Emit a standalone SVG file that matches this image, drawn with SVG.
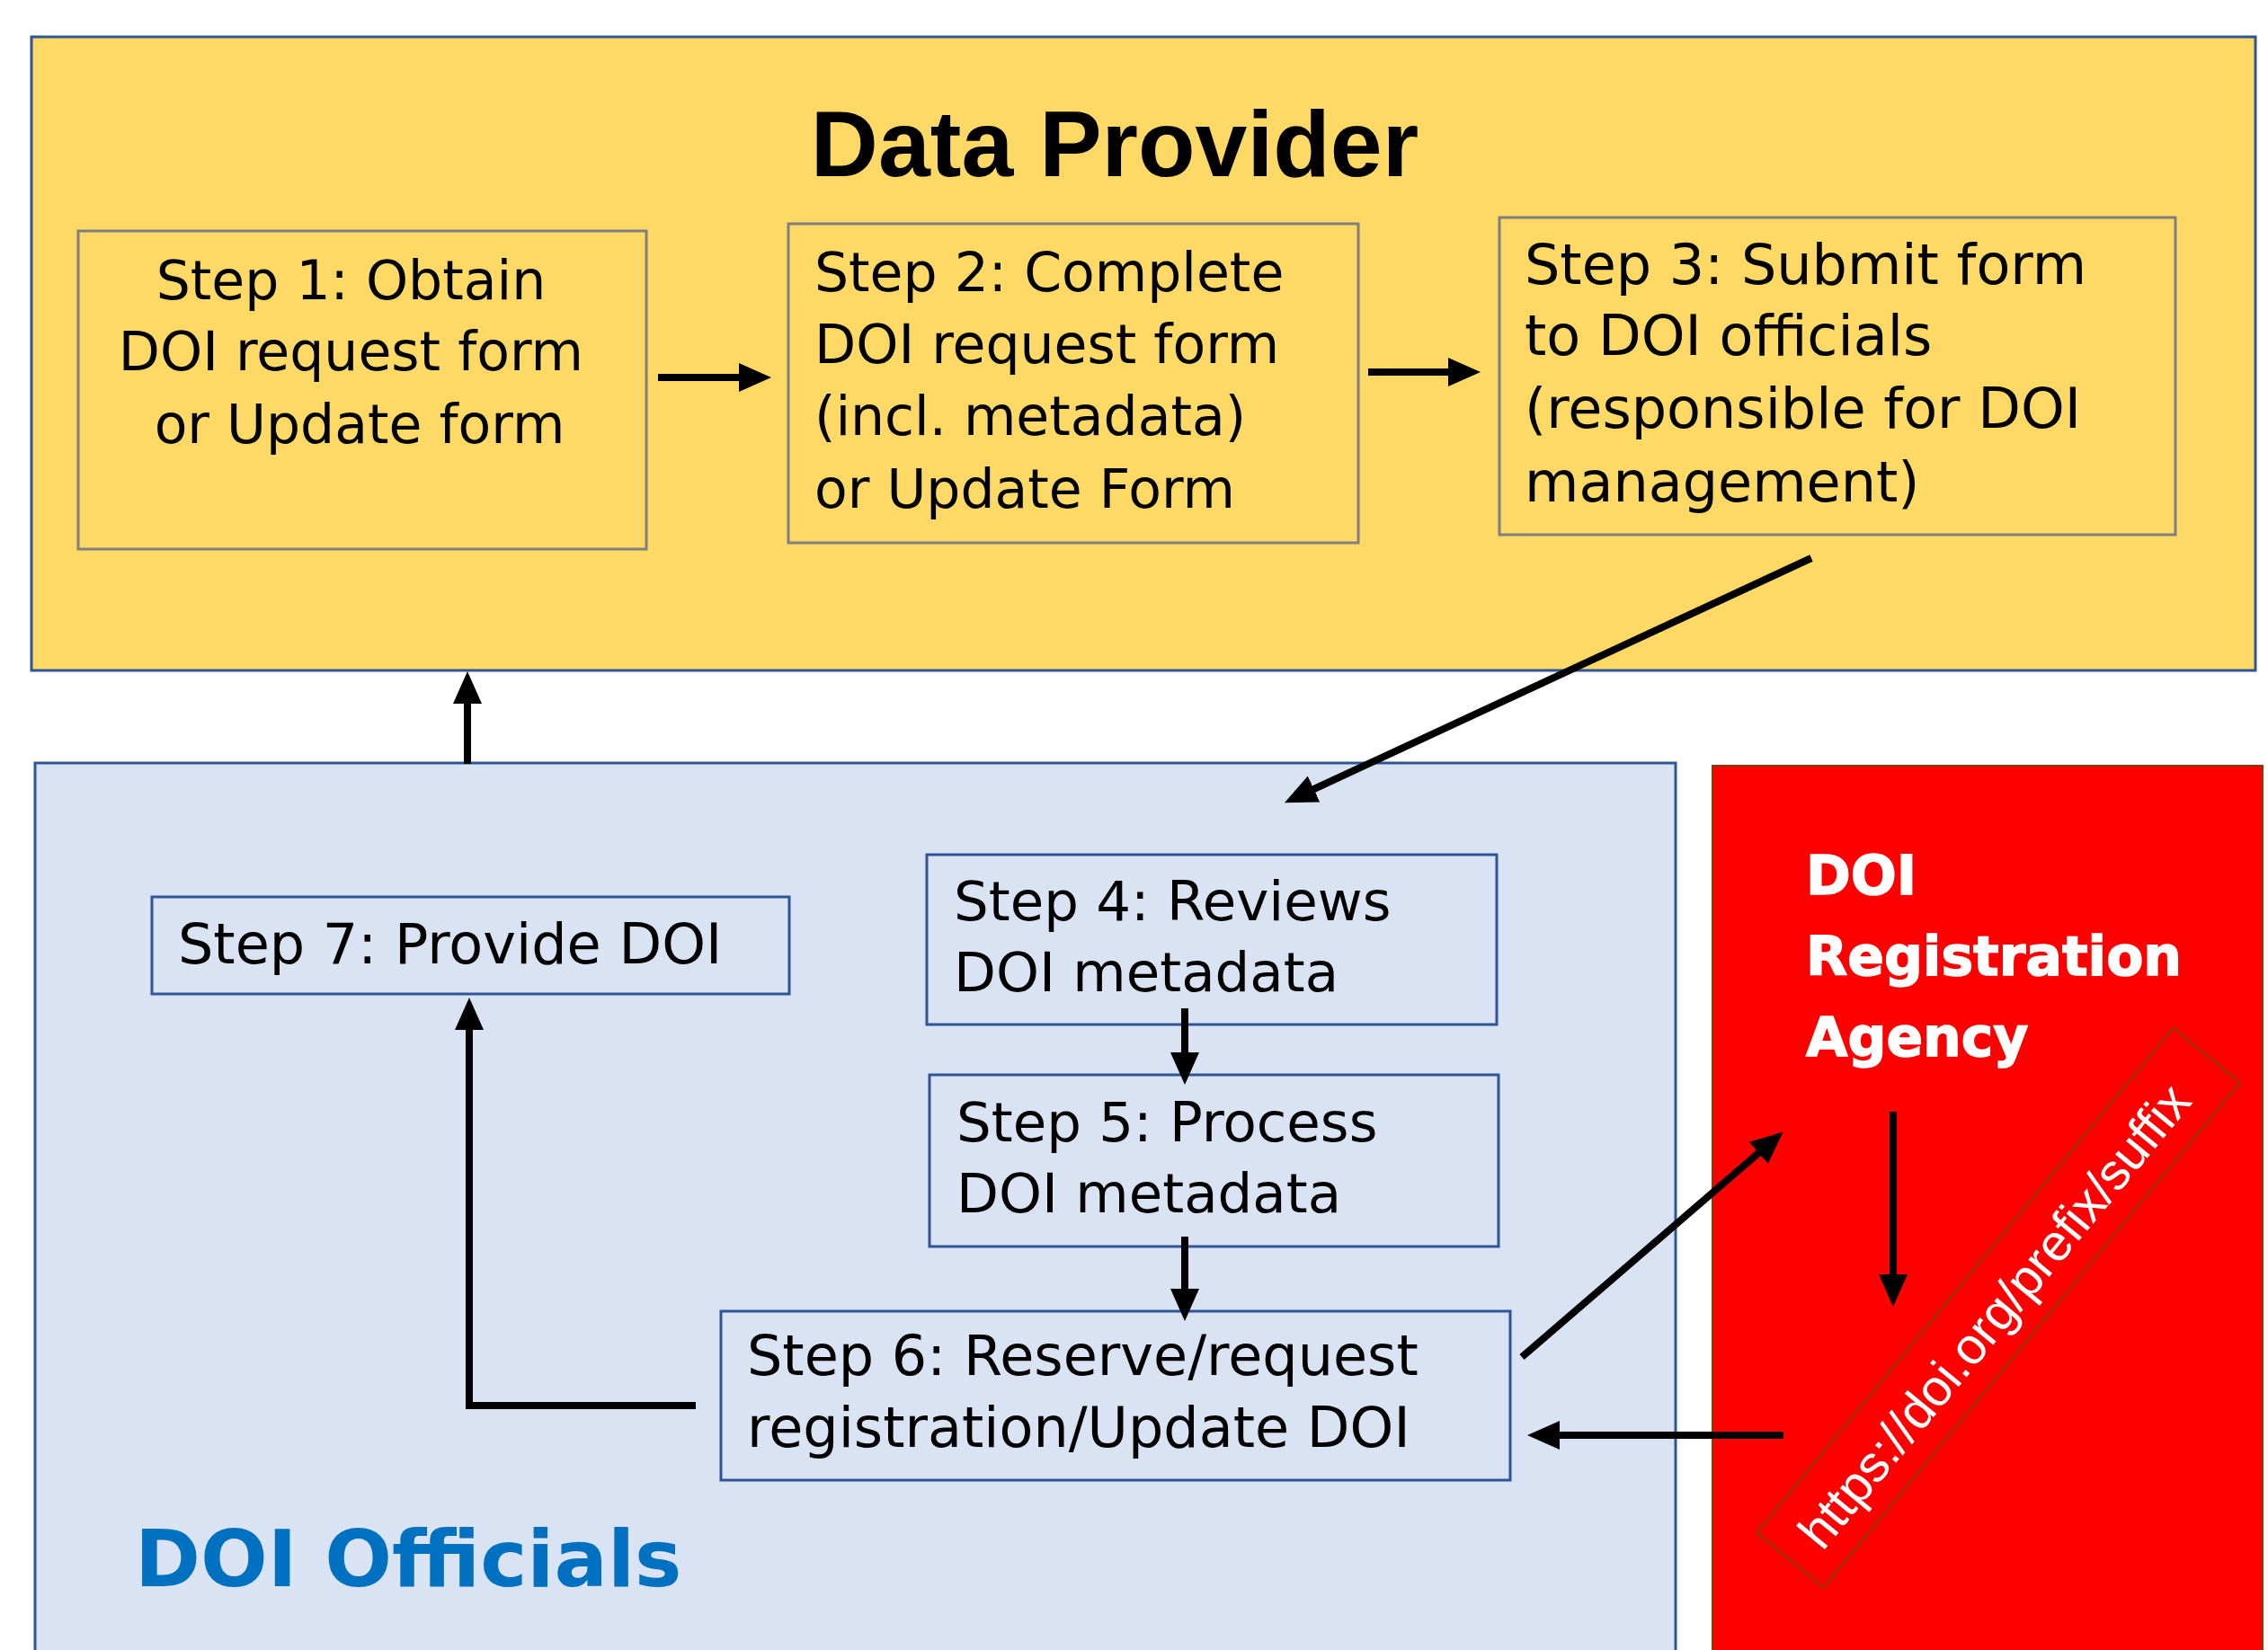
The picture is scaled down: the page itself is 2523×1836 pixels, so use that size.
<svg xmlns="http://www.w3.org/2000/svg" width="2523" height="1836" viewBox="0 0 2523 1836">
<defs>
<style>
.step{font-family:"DejaVu Sans",Verdana,sans-serif;fill:#000}
.ybox{fill:none;stroke:#7f7f7f;stroke-width:3}
.bbox{fill:none;stroke:#2f5597;stroke-width:3}
.conn{fill:none;stroke:#000;stroke-width:8;stroke-linejoin:miter}
</style>
<marker id="ah" markerUnits="userSpaceOnUse" markerWidth="40" markerHeight="34" refX="26" refY="16" orient="auto" viewBox="0 0 40 34">
<path d="M0,0 L36,16 L0,32 z" fill="#000"/>
</marker>
</defs>
<rect width="2523" height="1836" fill="#fff"/>

<g id="data-provider">
<rect x="35" y="41" width="2474" height="705" fill="#fed966" stroke="#2f5597" stroke-width="3"/>
<text x="1240" y="196" text-anchor="middle" font-family="Liberation Sans, Arial, sans-serif" font-weight="bold" font-size="104">Data Provider</text>
</g>

<g id="step1">
<rect class="ybox" x="87" y="257" width="632" height="354"/>
<text class="step" font-size="60" text-anchor="middle">
<tspan x="400" y="333">Step 1: Obtain</tspan>
<tspan x="400" y="412">DOI request form</tspan>
<tspan x="400" y="493">or Update form</tspan>
</text>
</g>

<g id="step2">
<rect class="ybox" x="877" y="249" width="634" height="355"/>
<text class="step" font-size="60">
<tspan x="906" y="324">Step 2: Complete</tspan>
<tspan x="906" y="404">DOI request form</tspan>
<tspan x="906" y="484">(incl. metadata)</tspan>
<tspan x="906" y="565">or Update Form</tspan>
</text>
</g>

<g id="step3">
<rect class="ybox" x="1668" y="242" width="752" height="353"/>
<text class="step" font-size="62">
<tspan x="1696" y="316">Step 3: Submit form</tspan>
<tspan x="1696" y="395">to DOI officials</tspan>
<tspan x="1696" y="476">(responsible for DOI</tspan>
<tspan x="1696" y="558">management)</tspan>
</text>
</g>

<g id="doi-officials">
<rect x="39" y="849" width="1825" height="1000" fill="#dae3f3" stroke="#2f5597" stroke-width="3"/>
<text x="150" y="1765" font-family="DejaVu Sans, Verdana, sans-serif" font-weight="bold" font-size="88" fill="#0070c0">DOI Officials</text>
</g>

<g id="registration-agency">
<rect x="1905" y="852" width="612" height="1000" fill="#ff0000" stroke="#843c0c" stroke-width="2"/>
<text font-family="DejaVu Sans, Verdana, sans-serif" font-weight="bold" font-size="60" fill="#fff" stroke="#fff" stroke-width="1.5">
<tspan x="2009" y="995">DOI</tspan>
<tspan x="2009" y="1085">Registration</tspan>
<tspan x="2009" y="1175">Agency</tspan>
</text>
<g transform="translate(2223,1455) rotate(-50.5)">
<rect x="-364" y="-48" width="728" height="96" fill="none" stroke="#843c0c" stroke-width="2"/>
<text x="-10" y="22" text-anchor="middle" font-family="Liberation Sans, Arial, sans-serif" font-size="57" fill="#fff">https://doi.org/prefix/suffix</text>
</g>
</g>

<g id="step7">
<rect class="bbox" x="169" y="998" width="709" height="108"/>
<text class="step" font-size="62" x="198" y="1072">Step 7: Provide DOI</text>
</g>

<g id="step4">
<rect class="bbox" x="1031" y="951" width="634" height="189"/>
<text class="step" font-size="61">
<tspan x="1061" y="1024">Step 4: Reviews</tspan>
<tspan x="1061" y="1103">DOI metadata</tspan>
</text>
</g>

<g id="step5">
<rect class="bbox" x="1034" y="1196" width="633" height="191"/>
<text class="step" font-size="61">
<tspan x="1064" y="1270">Step 5: Process</tspan>
<tspan x="1064" y="1349">DOI metadata</tspan>
</text>
</g>

<g id="step6">
<rect class="bbox" x="802" y="1459" width="878" height="188"/>
<text class="step" font-size="62">
<tspan x="831" y="1530">Step 6: Reserve/request</tspan>
<tspan x="831" y="1610">registration/Update DOI</tspan>
</text>
</g>

<g id="connectors">
<path class="conn" marker-end="url(#ah)" d="M732,420 L848,420"/>
<path class="conn" marker-end="url(#ah)" d="M1522,414 L1637,414"/>
<path class="conn" marker-end="url(#ah)" d="M2015,621 L1438,889"/>
<path class="conn" marker-end="url(#ah)" d="M1318,1122 L1318,1197"/>
<path class="conn" marker-end="url(#ah)" d="M1318,1376 L1318,1460"/>
<path class="conn" marker-end="url(#ah)" d="M774,1564 L522,1564 L522,1120"/>
<path class="conn" marker-end="url(#ah)" d="M520,850 L520,757"/>
<path class="conn" marker-end="url(#ah)" d="M1693,1510 L1976,1266"/>
<path class="conn" marker-end="url(#ah)" d="M1984,1597 L1709,1597"/>
<path class="conn" marker-end="url(#ah)" d="M2106,1237 L2106,1444"/>
</g>
</svg>
